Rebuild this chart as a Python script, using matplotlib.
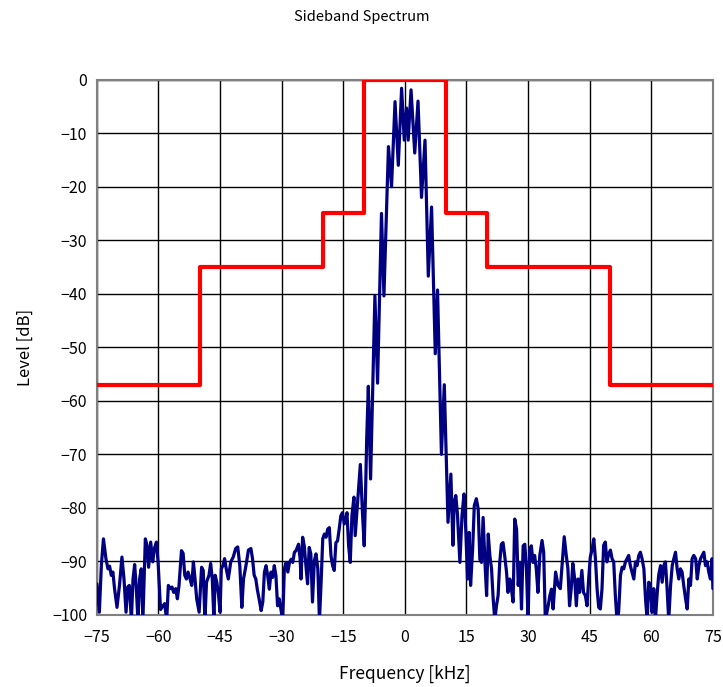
import numpy as np
import matplotlib.pyplot as plt

plt.rcParams['font.family'] = ['Noto Sans CJK JP', 'DejaVu Sans']

# spectral mask (step line)
mask_freq = [-75, -50, -50, -20, -20, -10, -10, 10, 10, 20, 20, 50, 50, 75]
mask_level = [-57, -57, -35, -35, -25, -25, 0, 0, -25, -25, -35, -35, -57, -57]

spec_freq = [
    -75.0, -74.4, -73.9, -73.4, -72.8, -72.3, -71.9, -71.5, -71.1, -70.7,
    -70.1, -69.5, -68.9, -68.4, -67.9, -67.5, -67.1, -66.6, -66.2, -65.8,
    -65.4, -65.0, -64.6, -64.2, -63.8, -63.2, -62.8, -62.4, -61.9, -61.4,
    -61.0, -60.5, -60.1, -59.5, -58.9, -58.5, -58.0, -57.6, -57.1, -56.7,
    -56.3, -55.8, -55.4, -55.0, -54.4, -54.0, -53.6, -53.2, -52.8, -52.3,
    -51.9, -51.5, -51.1, -50.7, -50.1, -49.5, -49.1, -48.7, -48.3, -47.7,
    -47.3, -46.9, -46.5, -46.2, -45.8, -45.4, -45.0, -44.7, -44.3, -43.9,
    -43.5, -43.0, -42.4, -41.8, -41.2, -40.7, -40.2, -39.7, -39.3, -38.7,
    -38.1, -37.5, -37.1, -36.7, -36.3, -35.9, -35.5,
    -35.0, -34.6, -34.2, -33.8, -33.4, -33.0, -32.6, -32.2, -31.8, -31.4,
    -31.0, -30.6, -30.2, -29.75, -29.35, -28.9, -28.5, -28.1, -27.7, -27.3,
    -26.9, -26.5, -25.9, -25.5, -25.3, -24.9, -24.5, -24.1, -23.7, -23.3,
    -22.9, -22.5, -22.05, -21.65, -21.2, -20.8, -20.4, -20.0, -19.6, -19.2,
    -18.8, -18.4, -18.0, -17.6, -17.2, -16.8, -16.4, -16.0, -15.6, -15.2,
    -14.75, -14.35, -14.1, -13.7, -13.3, -12.9, -12.4, -12.1, -11.75, -11.3,
    -10.85, -10.3, -9.9, -9.6, -9.3,
    -8.9, -8.35, -7.3, -6.65, -5.7, -5.1, -4.0, -3.25, -2.4, -1.6,
    -0.8, -0.15, 0.4, 0.8, 1.5, 2.4, 3.2, 4.05, 4.9, 5.7,
    6.5, 7.4, 7.95, 8.9, 9.6, 10.5, 11.2,
    11.7, 12.0, 12.4, 12.8, 13.4, 13.9, 14.4, 14.85, 15.25, 15.65,
    16.0, 16.5, 16.9, 17.4, 17.85, 18.25, 18.65, 19.05, 19.5, 19.9,
    20.3, 20.7, 21.1, 21.5, 21.9, 22.3, 22.7, 23.1, 23.5, 23.9,
    24.3, 24.75, 25.1, 25.55, 25.95, 26.35, 26.75, 27.2, 27.6, 28.0,
    28.4, 28.8, 29.2, 29.6, 30.0, 30.4, 30.8, 31.2, 31.6, 32.0,
    32.4, 32.85, 33.4, 33.8, 34.2, 34.9, 35.3, 35.7, 36.1, 36.7,
    37.3,
    37.85, 38.25, 38.8, 39.3, 39.7, 40.1, 40.5, 40.9, 41.35, 41.75,
    42.15, 42.55, 43.1, 43.5, 43.95, 44.35, 44.75, 45.15, 45.55, 46.0,
    46.4, 46.8, 47.2, 47.6, 48.0, 48.4, 48.8, 49.2, 49.65, 50.05,
    50.45, 50.85, 51.25, 51.65, 52.05, 52.5, 52.9, 53.3, 53.7, 54.1,
    54.5, 54.9, 55.3, 55.75, 56.15, 56.55, 56.95, 57.35, 57.75, 58.2,
    58.6, 59.0, 59.4, 59.8, 60.2, 60.6, 61.0, 61.4, 61.8, 62.25,
    62.65, 63.05, 63.45, 63.85, 64.25, 64.7, 65.1, 65.5, 65.9, 66.3,
    66.7, 67.1, 67.5, 67.9, 68.35, 68.75, 69.15, 69.55, 69.95, 70.35,
    70.8, 71.2, 71.6, 72.0, 72.4, 72.8, 73.2, 73.6, 74.0, 74.4,
    74.8, 75.0,
]
spec_level = [
    -94.2, -99.5, -90.6, -85.8, -89.5, -91.4, -90.9, -92.6, -92.0, -95.1,
    -98.6, -94.5, -89.2, -93.3, -99.5, -94.8, -94.5, -101, -93.3, -90.6,
    -95.1, -101, -93.3, -91.4, -101, -85.8, -87.0, -91.1, -86.4, -90.1,
    -87.6, -86.4, -90.1, -99.0, -98.3, -97.9, -101, -94.5, -95.1, -94.8,
    -95.8, -95.1, -97.0, -94.5, -88.0, -88.5, -92.6, -93.3, -92.0, -93.3,
    -94.5, -90.1, -93.3, -97.0, -99.5, -91.1, -91.7, -101, -93.9, -92.6,
    -90.4, -93.3, -101, -92.6, -93.9, -96.1, -99.5, -91.4, -90.8, -89.5,
    -91.4, -93.3, -90.1, -89.2, -87.6, -87.3, -90.8, -98.6, -93.3, -90.8,
    -87.9, -87.6, -89.5, -92.6, -93.3, -95.4, -97.0,
    -99.2, -97.6, -92.0, -90.8, -92.7, -95.2, -92.0, -93.0, -90.8, -92.7,
    -98.3, -97.0, -98.9, -101, -91.4, -90.2, -92.0, -90.2, -89.6, -90.2,
    -88.3, -88.0, -86.8, -89.6, -93.3, -85.5, -87.1, -90.8, -94.2, -87.4,
    -88.6, -97.6, -89.9, -88.6, -91.4, -101, -93.9, -85.8, -84.9, -85.5,
    -84.0, -83.7, -88.9, -90.8, -91.7, -86.5, -86.2, -84.0, -81.5, -80.9,
    -83.0, -82.1, -80.9, -87.1, -90.2, -81.5, -78.0, -85.2, -81.5, -76.5,
    -71.9, -81.4, -87.1, -78.0, -67.2,
    -57.3, -74.6, -40.4, -56.7, -25.0, -40.4, -12.5, -20.0, -4.1, -16.0,
    -1.6, -11.3, -5.3, -11.3, -1.9, -13.7, -4.0, -22.0, -11.3, -36.7,
    -23.8, -51.2, -39.3, -70.0, -57.0, -82.7, -73.7,
    -87.0, -79.0, -77.7, -81.2, -90.2, -81.5, -77.4, -84.6, -93.3, -84.6,
    -94.5, -87.7, -79.6, -78.3, -80.2, -89.6, -90.2, -81.8, -90.2, -96.4,
    -84.9, -89.0, -91.4, -97.0, -101, -98.3, -96.4, -90.2, -86.8, -86.5,
    -88.9, -92.0, -95.8, -93.3, -95.2, -97.6, -82.1, -84.0, -94.5, -90.2,
    -98.9, -87.1, -86.8, -91.4, -101, -87.7, -87.1, -90.2, -88.9, -91.4,
    -95.8, -88.9, -86.1, -88.3, -101, -98.3, -96.4, -95.2, -98.9, -92.0,
    -94.5,
    -95.1, -91.0, -85.4, -88.9, -91.4, -98.3, -95.1, -90.4, -93.3, -98.3,
    -93.3, -95.8, -91.7, -95.8, -96.4, -98.3, -93.3, -89.2, -87.9, -85.8,
    -89.5, -95.1, -98.6, -98.9, -95.1, -87.0, -86.4, -90.1, -88.6, -87.9,
    -89.5, -90.1, -96.4, -101, -99.5, -92.6, -91.1, -91.4, -90.1, -89.5,
    -88.9, -90.8, -92.0, -93.3, -90.1, -90.8, -88.9, -88.3, -89.5, -91.4,
    -97.0, -101, -93.9, -94.5, -99.5, -95.1, -101, -96.4, -92.6, -90.8,
    -93.9, -90.8, -90.1, -95.1, -101, -94.5, -90.8, -89.5, -88.3, -91.4,
    -93.3, -91.4, -92.0, -94.5, -97.0, -98.9, -93.3, -94.5, -89.5, -88.9,
    -89.5, -93.3, -90.8, -89.5, -88.9, -88.3, -90.8, -90.1, -92.0, -93.3,
    -89.5, -95.1,
]

xticks = np.arange(-75, 76, 15)
yticks = np.arange(-100, 1, 10)

fig = plt.figure(figsize=(7.23, 6.87), dpi=100)
ax = fig.add_axes([0.134, 0.105, 0.852, 0.779])

ax.plot(spec_freq, spec_level, color='#000080', lw=2.3, zorder=3,
        solid_joinstyle='round', solid_capstyle='round')
ax.plot(mask_freq, mask_level, color='#ff0000', lw=3, zorder=4)

ax.set_xlim(-75, 75)
ax.set_ylim(-100, 0)
ax.set_xticks(xticks)
ax.set_yticks(yticks)
ax.grid(True, color='black', lw=1)
ax.tick_params(length=0, labelsize=11.5)
ax.tick_params(axis='x', pad=10)
ax.tick_params(axis='y', pad=7)
for s in ax.spines.values():
    s.set_color('#808080')
    s.set_linewidth(1.5)

ax.set_xlabel('Frequency [kHz]', fontsize=12.5, labelpad=14)
ax.set_ylabel('Level [dB]', fontsize=12, labelpad=13)
fig.text(0.5, 0.975, 'Sideband Spectrum', ha='center', va='center', fontsize=10.5)

fig.savefig('out.png', dpi=100)
